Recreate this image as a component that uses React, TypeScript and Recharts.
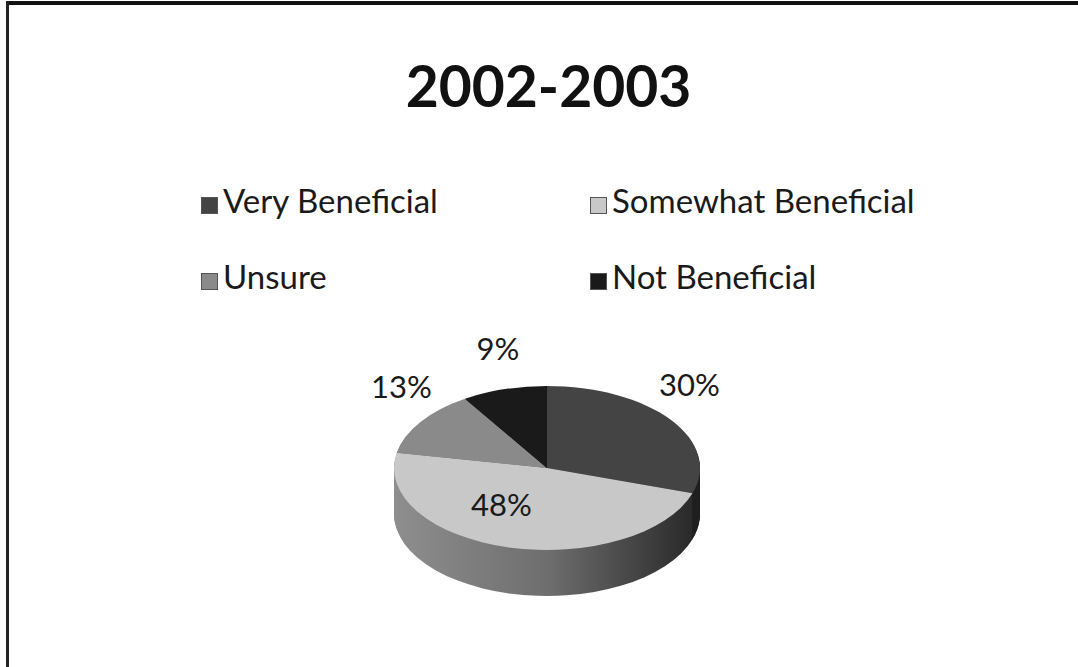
import React from "react";
import { PieChart, Pie, Cell, Legend } from "recharts";

const categories = ["Very Beneficial", "Somewhat Beneficial", "Unsure", "Not Beneficial"];
const shares = [30, 48, 13, 9];
const chartTitle = "2002-2003";

const topColors = ["#444444", "#c8c8c8", "#8a8a8a", "#1a1a1a"];
const sideGradients = [
  ["#2a2a2a", "#1e1e1e"],
  ["#8e8e8e", "#262626"],
  ["#707070", "#4a4a4a"],
  ["#141414", "#0c0c0c"],
];

const W = 1078;
const H = 667;
const CX = 547;
const CY = 468;
const R = 153;
const TILT = 0.536; // vertical squash of the disc
const DEPTH = 46;
const RADIAN = Math.PI / 180;
const FONT = "Lato, 'Open Sans', sans-serif";

const data = categories.map((name, i) => ({ name, value: shares[i] }));
const depthLayers = Array.from({ length: DEPTH }, (_, i) => DEPTH - i);

// squash the outer pie groups only; nested elements that inherit the class are reset
const squashCss =
  `.pie-top { transform-origin: ${CX}px ${CY}px; transform: scaleY(${TILT}); }\n` +
  depthLayers
    .map(
      (d) =>
        `.pie-side-${d} { transform-origin: ${CX}px ${CY}px; transform: translateY(${d}px) scaleY(${TILT}); }`
    )
    .join("\n") +
  `\n.squash .squash { transform: none; }`;

const renderLabel = (props: any) => {
  const { cx, cy, midAngle, percent } = props;
  const a = -midAngle * RADIAN;
  const inside = percent > 0.4;
  const x = cx + (inside ? 1.2 : 1.15) * R * Math.cos(a);
  const y = inside
    ? cy + 0.45 * R * TILT * Math.sin(a)
    : cy + 1.15 * R * TILT * Math.sin(a) - 29;
  return (
    <text
      x={x}
      y={y}
      textAnchor="middle"
      dominantBaseline="central"
      fontFamily={FONT}
      fontSize={31}
      fill="#1a1a1a"
    >
      {`${Math.round(percent * 100)}%`}
    </text>
  );
};

const LegendGrid = () => (
  <div style={{ position: "relative", width: W, height: 130 }}>
    {categories.map((name, i) => (
      <div
        key={name}
        style={{
          position: "absolute",
          left: i % 2 === 0 ? 201 : 590,
          top: Math.floor(i / 2) * 76,
          height: 40,
          display: "flex",
          alignItems: "flex-start",
          fontFamily: FONT,
          fontSize: 33,
          lineHeight: "40px",
          color: "#1a1a1a",
          whiteSpace: "nowrap",
        }}
      >
        <span
          style={{
            display: "inline-block",
            width: 17,
            height: 17,
            marginTop: 17,
            marginRight: 5,
            background: topColors[i],
            border: "1px solid #555",
            boxSizing: "border-box",
          }}
        />
        {name}
      </div>
    ))}
  </div>
);

export default function App() {
  return (
    <div
      style={{
        position: "absolute",
        left: 0,
        top: 0,
        width: W,
        height: H,
        background: "#fff",
        overflow: "hidden",
      }}
    >
      <style>{squashCss}</style>
      <svg width={0} height={0} style={{ position: "absolute" }}>
        <defs>
          {sideGradients.map(([from, to], i) => (
            <linearGradient
              key={i}
              id={`side-${i}`}
              gradientUnits="userSpaceOnUse"
              x1={CX - R}
              x2={CX + R}
              y1={0}
              y2={0}
            >
              <stop offset="0%" stopColor={from} />
              <stop offset="50%" stopColor={i === 1 ? "#6e6e6e" : from} />
              <stop offset="100%" stopColor={to} />
            </linearGradient>
          ))}
        </defs>
      </svg>

      {/* frame edges */}
      <div style={{ position: "absolute", left: 6, top: 1, width: W, height: 4, background: "#111" }} />
      <div style={{ position: "absolute", left: 6, top: 1, width: 3, height: H, background: "#222" }} />

      <div
        style={{
          position: "absolute",
          left: 0,
          top: 51,
          width: 1097,
          textAlign: "center",
          fontFamily: FONT,
          fontWeight: 700,
          fontSize: 57,
          lineHeight: 1.2,
          color: "#111",
        }}
      >
        {chartTitle}
      </div>

      <PieChart width={W} height={H} margin={{ top: 0, right: 0, bottom: 0, left: 0 }}>
        {depthLayers.map((d) => (
          <Pie
            key={d}
            className={`squash pie-side-${d}`}
            data={data}
            dataKey="value"
            nameKey="name"
            cx={CX}
            cy={CY}
            outerRadius={R}
            startAngle={90}
            endAngle={-270}
            stroke="none"
            legendType="none"
            isAnimationActive={false}
          >
            {data.map((_, i) => (
              <Cell key={i} fill={`url(#side-${i})`} />
            ))}
          </Pie>
        ))}
        <Pie
          className="squash pie-top"
          data={data}
          dataKey="value"
          nameKey="name"
          cx={CX}
          cy={CY}
          outerRadius={R}
          startAngle={90}
          endAngle={-270}
          stroke="none"
          isAnimationActive={false}
        >
          {data.map((_, i) => (
            <Cell key={i} fill={topColors[i]} />
          ))}
        </Pie>
        <Pie
          data={data}
          dataKey="value"
          nameKey="name"
          cx={CX}
          cy={CY}
          outerRadius={R}
          startAngle={90}
          endAngle={-270}
          fill="transparent"
          stroke="none"
          legendType="none"
          label={renderLabel}
          labelLine={false}
          isAnimationActive={false}
        />
        <Legend
          layout="vertical"
          align="right"
          verticalAlign="middle"
          content={<LegendGrid />}
          wrapperStyle={{ position: "absolute", left: 0, top: 180, width: W, height: 130 }}
        />
      </PieChart>
    </div>
  );
}
